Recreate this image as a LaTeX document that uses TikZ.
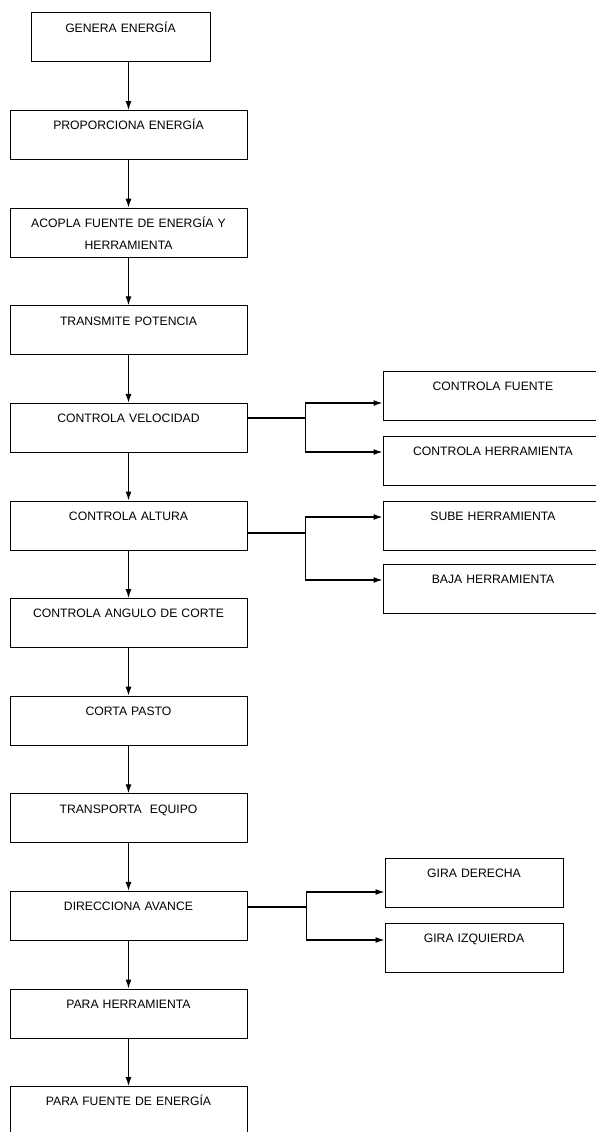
\documentclass[tikz,border=0pt]{standalone}
\usepackage{fontspec}
\setmainfont{Liberation Sans}
\usetikzlibrary{shapes,arrows.meta}
\tikzstyle{block} = [rectangle, draw, line width=1pt, text width=225pt, align=center,
    minimum width=237pt, minimum height=49pt, inner sep=0pt,
    text height=19.3pt, text depth=29.7pt, font=\fontsize{12.2}{21.5}\selectfont]
\tikzstyle{side} = [block, minimum width=220pt, text width=210pt]
\tikzstyle{line} = [draw, line width=1.2pt, -{Latex[length=9pt,width=6pt]}]
\tikzstyle{wire} = [draw, line width=1.2pt]

\begin{document}
\begin{tikzpicture}[x=1pt, y=-1pt, node distance=97.6pt]
    \useasboundingbox (0,0) rectangle (595,1132);
    % Place nodes
    \node [block, minimum width=179pt, text width=170pt] (gen) at (120.5,37.5) {GENERA ENERGÍA};
    \node [block, below of=gen, xshift=8pt] (pro) {PROPORCIONA ENERGÍA};
    \node [block, below of=pro] (aco) {ACOPLA FUENTE DE ENERGÍA Y\\HERRAMIENTA};
    \node [block, below of=aco] (tra) {TRANSMITE POTENCIA};
    \node [block, below of=tra] (vel) {CONTROLA VELOCIDAD};
    \node [block, below of=vel] (alt) {CONTROLA ALTURA};
    \node [block, below of=alt] (ang) {CONTROLA ANGULO DE CORTE};
    \node [block, below of=ang] (cor) {CORTA PASTO};
    \node [block, below of=cor] (tpe) {TRANSPORTA\ \ EQUIPO};
    \node [block, below of=tpe] (dir) {DIRECCIONA AVANCE};
    \node [block, below of=dir] (phe) {PARA HERRAMIENTA};
    \node [block, below of=phe] (pfe) {PARA FUENTE DE ENERGÍA};
    % side branches
    \node [side] (fue) at (493,395.5) {CONTROLA FUENTE};
    \node [side] (her) at (493,460.5) {CONTROLA HERRAMIENTA};
    \node [side] (sub) at (493,525.5) {SUBE HERRAMIENTA};
    \node [side] (baj) at (493,589) {BAJA HERRAMIENTA};
    \node [side, minimum width=178pt, text width=170pt] (der) at (474,883) {GIRA DERECHA};
    \node [side, minimum width=178pt, text width=170pt] (izq) at (474,948) {GIRA IZQUIERDA};
    \coordinate (jv) at ([xshift=58pt,yshift=10pt]vel.east);
    \coordinate (ja) at ([xshift=58pt,yshift=-7.5pt]alt.east);
    \coordinate (jd) at ([xshift=59pt,yshift=9pt]dir.east);
    % Draw edges
    \path [line] (pro.north |- gen.south) -- (pro.north);
    \path [line] (pro) -- (aco);
    \path [line] (aco) -- (tra);
    \path [line] (tra) -- (vel);
    \path [line] (vel) -- (alt);
    \path [line] (alt) -- (ang);
    \path [line] (ang) -- (cor);
    \path [line] (cor) -- (tpe);
    \path [line] (tpe) -- (dir);
    \path [line] (dir) -- (phe);
    \path [line] (phe) -- (pfe);
    \path [wire] ([yshift=10pt]vel.east) -- (jv);
    \path [line] (jv) |- ([yshift=-7.5pt]fue.west);
    \path [line] (jv) |- ([yshift=8.5pt]her.west);
    \path [wire] ([yshift=-7.5pt]alt.east) -- (ja);
    \path [line] (ja) |- ([yshift=8.5pt]sub.west);
    \path [line] (ja) |- ([yshift=9pt]baj.west);
    \path [wire] ([yshift=9pt]dir.east) -- (jd);
    \path [line] (jd) |- ([yshift=-9pt]der.west);
    \path [line] (jd) |- ([yshift=8pt]izq.west);
\end{tikzpicture}
\end{document}
